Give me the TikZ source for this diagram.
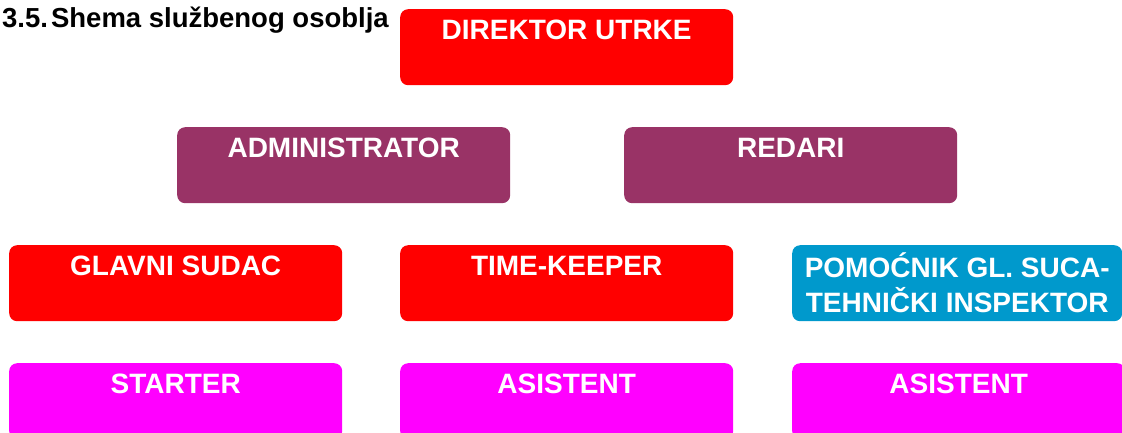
\documentclass[tikz,border=0pt]{standalone}
\usepackage{fontspec}
\setmainfont{Liberation Sans}
\definecolor{boxred}{RGB}{255,0,0}
\definecolor{boxplum}{RGB}{153,51,102}
\definecolor{boxpink}{RGB}{255,0,255}
\definecolor{boxblue}{RGB}{0,153,204}
\tikzset{
  orgbox/.style={rounded corners=8pt, draw=none, minimum width=333pt,
    inner xsep=0pt, inner ysep=0pt, text height=30pt, text depth=46pt,
    text=white, font=\fontsize{28}{33}\selectfont\bfseries, anchor=north west},
  orgboxtwo/.style={rounded corners=8pt, draw=none, minimum width=330pt,
    minimum height=76pt, inner xsep=0pt, inner ysep=0pt, align=center,
    text=white, font=\fontsize{28}{35}\selectfont\bfseries, anchor=north west},
}

\begin{document}
\begin{tikzpicture}[x=1pt, y=-1pt]
  \useasboundingbox (0,0) rectangle (1122,432);
  \node[anchor=base west, inner sep=0pt, font=\fontsize{27.5}{30}\selectfont\bfseries] (naslov) at (2,27) {3.5.\hspace{3pt}Shema službenog osoblja};
  % prvi red
  \node[orgbox, fill=boxred] (direktor) at (400,9) {DIREKTOR UTRKE};
  % drugi red
  \node[orgbox, fill=boxplum] (admin) at (177,127) {ADMINISTRATOR};
  \node[orgbox, fill=boxplum] (redari) at (624,127) {REDARI};
  % treci red
  \node[orgbox, fill=boxred] (sudac) at (9,245) {GLAVNI SUDAC};
  \node[orgbox, fill=boxred] (timekeeper) at (400,245) {TIME-KEEPER};
  \node[orgboxtwo, fill=boxblue] (pomocnik) at (792,245) {POMOĆNIK GL. SUCA-\\TEHNIČKI INSPEKTOR};
  % cetvrti red
  \node[orgbox, fill=boxpink] (starter) at (9,363) {STARTER};
  \node[orgbox, fill=boxpink] (asistentA) at (400,363) {ASISTENT};
  \node[orgbox, fill=boxpink] (asistentB) at (792,363) {ASISTENT};
\end{tikzpicture}
\end{document}
